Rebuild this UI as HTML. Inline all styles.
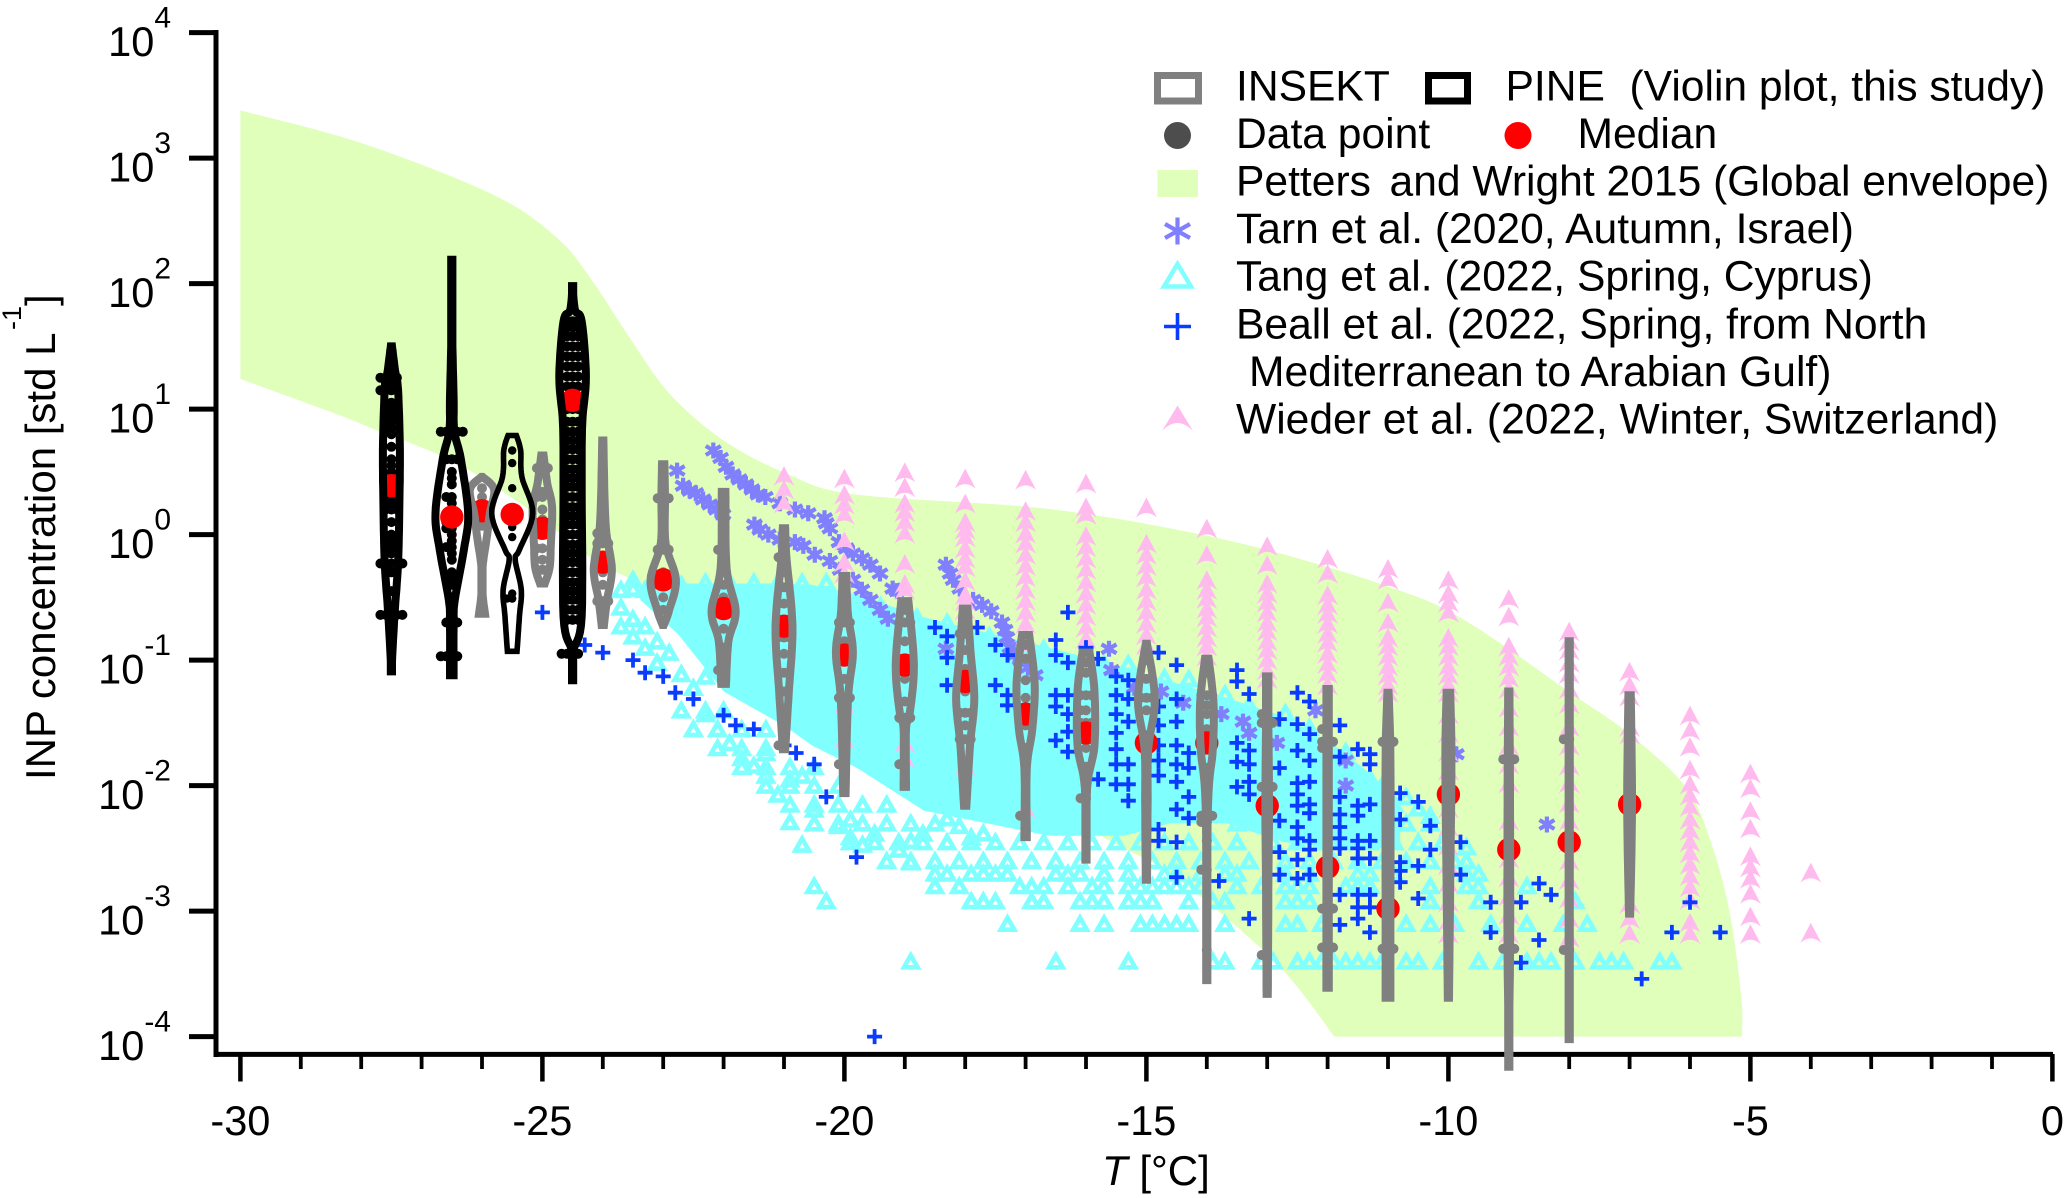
<!DOCTYPE html>
<html lang="en">
<head>
<meta charset="utf-8">
<title>INP concentration versus temperature</title>
<style>
html,body{margin:0;padding:0;background:#fff;}
svg{display:block;}
text{font-family:"Liberation Sans",Arial,sans-serif;fill:#000;}
</style>
</head>
<body>
<svg id="chart" xmlns="http://www.w3.org/2000/svg" width="2067" height="1198" viewBox="0 0 2067 1198">
  <rect x="0" y="0" width="2067" height="1198" fill="#fff"/>
  <g id="axes"></g>
  <g id="envelope"></g>
  <g id="tang"></g>
  <g id="tarn"></g>
  <g id="wieder"></g>
  <g id="beall"></g>
  <g id="violins"></g>

  <text transform="translate(55,780) rotate(-90)" font-size="42">INP concentration [std L</text>
  <text transform="translate(21,330) rotate(-90)" font-size="27">-1</text>
  <text transform="translate(55,306) rotate(-90)" font-size="42">]</text>
  <text x="1102" y="1185" font-size="42"><tspan font-style="italic">T</tspan> [°C]</text>

  <g>
    <rect x="1157.5" y="75.5" width="41" height="25.5" fill="none" stroke="#808080" stroke-width="7"/>
    <text x="1236" y="100.3" font-size="42.6">INSEKT</text>
    <rect x="1428.5" y="75.5" width="39" height="25.5" fill="none" stroke="#000" stroke-width="7"/>
    <text x="1505.5" y="100.3" font-size="42.6">PINE</text>
    <text x="1629.5" y="100.3" font-size="42.6">(Violin plot, this study)</text>

    <circle cx="1177.5" cy="135.5" r="13.5" fill="#4d4d4d"/>
    <text x="1236" y="147.9" font-size="42.6">Data point</text>
    <circle cx="1518" cy="135.5" r="13.5" fill="#ff0000"/>
    <text x="1577.5" y="147.9" font-size="42.6">Median</text>

    <rect x="1157.5" y="170" width="40.5" height="27" fill="#dfffbb"/>
    <text x="1236" y="195.5" font-size="42.6">Petters</text>
    <text x="1389.5" y="195.5" font-size="42.6">and Wright 2015 (Global envelope)</text>

    <g stroke="#8080ff" stroke-width="4.2" fill="none">
      <path d="M1177.5 217.5V244.5M1165 224L1190 238M1165 238L1190 224"/>
    </g>
    <text x="1236" y="243.1" font-size="42.6">Tarn et al. (2020, Autumn, Israel)</text>

    <path d="M1177.5 264L1191 286.5H1164Z" fill="none" stroke="#80ffff" stroke-width="4.5"/>
    <text x="1236" y="290.7" font-size="42.6">Tang et al. (2022, Spring, Cyprus)</text>

    <path d="M1177.5 313V340M1164 326.5H1191" fill="none" stroke="#0a3cff" stroke-width="3.6"/>
    <text x="1236" y="338.3" font-size="42.6">Beall et al. (2022, Spring, from North</text>
    <text x="1249" y="385.9" font-size="42.6">Mediterranean to Arabian Gulf)</text>

    <path d="M1177.5 405.5L1193 431Q1177.5 415 1162 431Z" fill="#ffbbee"/>
    <text x="1236" y="433.5" font-size="42.6">Wieder et al. (2022, Winter, Switzerland)</text>
  </g>
</svg>

<script>
// ---- Axis tick values ----
const xMajorTicks = [-30, -25, -20, -15, -10, -5, 0];
const xMinorTicks = [-29, -28, -27, -26, -24, -23, -22, -21, -19, -18, -17, -16, -14, -13, -12, -11, -9, -8, -7, -6, -4, -3, -2, -1];
const yTickExponents = [4, 3, 2, 1, 0, -1, -2, -3, -4];

// ---- Petters and Wright envelope (temperature, log10 concentration) ----
const envelopeUpperT = [-30, -28, -25.82, -24.77, -24.2, -23.53, -22.89, -22, -20.93, -19.84, -16.93, -14.94, -13.02, -11.02, -9.77, -7.92, -7.03, -6.07, -5.64, -5.34, -5.15, -5.14];
const envelopeUpperLog = [3.38, 3.12, 2.71, 2.37, 2.04, 1.55, 1.12, 0.75, 0.48, 0.32, 0.22, 0.08, -0.12, -0.41, -0.67, -1.28, -1.58, -2.01, -2.47, -3.02, -3.69, -4];
const envelopeLowerT = [-11.89, -12.72, -13.83, -14.77, -15.5, -16.83, -18.25, -20.73, -23.6, -24.38, -25.04, -26.31, -27.24, -27.74, -28.35, -30];
const envelopeLowerLog = [-4, -3.48, -2.99, -2.65, -2.47, -2.1, -1.68, -0.92, -0.34, -0.12, 0.14, 0.54, 0.74, 0.83, 0.95, 1.24];

// ---- Tang et al. dense core band ----
const tangBandT = [-23.38, -22.76, -22, -20.97, -20.54, -19.79, -18.68, -16.61, -15.36, -14.61, -13.68, -12.72, -11.76, -10.8];
const tangBandTop = [-0.4, -0.39, -0.39, -0.39, -0.4, -0.48, -0.66, -0.9, -1.06, -1.17, -1.3, -1.45, -1.72, -2.11];
const tangBandBottom = [-0.52, -0.79, -1.25, -1.53, -1.68, -1.86, -2.2, -2.4, -2.4, -2.3, -2.3, -2.45, -2.5, -2.5];

// ---- Tang et al. upper edge markers ----
const tangTopT = [-23.7, -23.5, -23.3, -23.1, -22.7, -22.3, -21.9, -21.5, -21.1, -20.7, -20.3, -20, -19.4, -18.8, -18.3, -17.6, -16.7, -15.7, -15.3, -14.7, -14.3, -13.7, -13.3, -12.7, -12.3, -11.7, -11.3, -11.1, -10.7, -10.5, -10.3, -9.7];
const tangTopLog = [-0.44, -0.36, -0.44, -0.36, -0.4, -0.38, -0.38, -0.38, -0.38, -0.38, -0.38, -0.45, -0.57, -0.66, -0.7, -0.81, -0.91, -1.03, -1.03, -1.14, -1.15, -1.27, -1.36, -1.42, -1.54, -1.73, -1.94, -2, -2.09, -2.18, -2.24, -2.49];

// ---- Tang et al. lower left fringe markers ----
const tangFringeT = [-23.7, -23.5, -23.7, -23.5, -23.3, -23.7, -23.5, -23.1, -23.3, -22.9, -23.1, -22.7, -22.5, -22.3, -22.3, -22.1, -21.9, -21.7, -21.5, -21.3, -21.3, -21.1, -20.9, -20.7, -20.5, -20.9, -20.7, -20.1, -19.9, -19.7, -19.9, -19.5, -19.1, -18.9, -18.7, -18.9, -18.3, -18.1, -17.9, -17.7];
const tangFringeLog = [-0.44, -0.43, -0.58, -0.67, -0.73, -0.73, -0.81, -0.85, -0.9, -0.94, -1.02, -1.11, -1.22, -1.13, -1.43, -1.55, -1.66, -1.78, -1.84, -1.74, -1.92, -2.07, -1.95, -1.92, -2.19, -2.29, -2.47, -2.32, -2.27, -2.47, -2.41, -2.38, -2.51, -2.44, -2.38, -2.61, -2.26, -2.32, -2.41, -2.38];

// ---- Tang et al. quantised rows ----
const tangRowLogs = [-3.4, -3.1, -2.92, -2.8, -2.7, -2.6, -2.45, -2.3, -2.15, -2, -1.85, -1.7, -1.55, -1.4];
const tangRowTemps = [
  [-18.9, -16.5, -15.3, -13.9, -13.7, -13.1, -12.9, -12.5, -12.3, -12.1, -11.9, -11.7, -11.5, -11.3, -11.1, -10.7, -10.5, -10.1, -9.5, -9.1, -8.7, -8.5, -8.3, -7.9, -7.5, -7.3, -7.1, -6.5, -6.3],
  [-17.3, -16.1, -15.7, -15.1, -14.9, -14.7, -14.5, -14.3, -13.7, -12.7, -12.5, -12.1, -10.7, -10.3, -9.9, -9.3, -8.7, -8.1, -7.7],
  [-20.3, -17.9, -17.7, -17.5, -16.9, -16.7, -16.1, -15.9, -15.7, -15.3, -15.1, -14.9, -14.3, -13.9, -13.7, -12.7, -12.5, -12.3, -10.3, -9.5, -7.9],
  [-20.5, -18.5, -18.1, -17.1, -16.9, -16.7, -16.3, -15.9, -15.7, -15.3, -15.1, -14.9, -14.7, -14.5, -14.3, -14.1, -13.5, -13.1, -12.7, -12.5, -12.3, -11.7, -11.5, -11.3, -10.3, -9.7, -9.5, -8.7],
  [-18.5, -18.3, -17.9, -17.7, -17.5, -17.3, -16.5, -16.3, -16.1, -15.7, -15.3, -14.7, -14.5, -14.1, -13.7, -13.5, -12.7, -12.3, -11.5, -11.3, -10.9, -9.7, -9.5],
  [-19.3, -18.9, -18.5, -18.1, -17.7, -17.3, -16.9, -16.5, -16.1, -15.7, -15.3, -14.9, -14.5, -14.1, -13.7, -13.3, -12.7, -12.3, -11.9, -11.5, -11.1, -10.7, -10.3, -9.9, -9.7],
  [-19.9, -19.5, -19.1, -18.7, -18.3, -17.9, -17.5, -17.1, -16.7, -16.3, -15.9, -15.5, -15.1, -14.7, -14.3, -13.9, -13.5, -12.9, -12.5, -12.1, -11.7, -11.3, -10.9, -10.5, -10.1],
  [-20.5, -20.1, -19.7, -19.3, -18.9, -18.5, -13.5, -13.1, -12.7, -12.3, -11.9, -11.5, -11.1, -10.7, -10.3],
  [-20.9, -20.5, -20.1, -19.7, -19.3, -12.5, -12.1, -11.7, -11.3, -10.9],
  [-21.3, -20.9, -20.5, -20.1],
  [-21.7, -21.3, -20.9, -20.5],
  [-22.1, -21.7, -21.3],
  [-22.5, -22.1, -21.7, -21.3],
  [-22.7, -22.3, -22]
];

// ---- Tarn et al. ----
const tarnT = [-22.77, -22.67, -22.56, -22.46, -22.34, -22.23, -22.12, -22.01, -22.17, -22.05, -21.96, -21.85, -21.74, -21.63, -21.53, -21.43, -21.31, -21.07, -20.82, -20.6, -20.33, -20.3, -20.24, -20.09, -19.97, -19.86, -19.71, -19.57, -19.41, -19.2, -19.13, -21.49, -21.4, -21.26, -21.07, -20.82, -20.68, -20.49, -20.24, -20.07, -19.86, -19.71, -19.57, -19.41, -19.28, -18.32, -18.25, -18.2, -18.09, -17.87, -17.72, -17.57, -17.39, -17.34, -17.31, -17.26, -17.18, -17.09, -18.32, -16.96, -16.84, -15.62, -15.58, -15.2, -14.76, -14.39, -13.76, -13.4, -13.3, -12.84, -12.2, -11.7, -11.7, -9.87, -8.37];
const tarnLog = [0.51, 0.39, 0.35, 0.33, 0.28, 0.24, 0.2, 0.16, 0.67, 0.61, 0.54, 0.48, 0.44, 0.4, 0.36, 0.32, 0.3, 0.25, 0.2, 0.17, 0.13, 0.09, 0.05, -0.06, -0.11, -0.15, -0.19, -0.24, -0.31, -0.43, -0.45, 0.08, 0.04, 0, -0.04, -0.06, -0.09, -0.16, -0.21, -0.28, -0.36, -0.44, -0.52, -0.6, -0.67, -0.24, -0.31, -0.36, -0.43, -0.52, -0.56, -0.61, -0.7, -0.76, -0.82, -0.9, -0.96, -1, -0.91, -1.06, -1.12, -0.91, -1.08, -1.22, -1.25, -1.34, -1.43, -1.49, -1.58, -1.66, -1.4, -1.8, -2, -1.75, -2.31];

// ---- Beall et al. ----
const beallT = [-25, -24.3, -24, -23.5, -23.3, -23, -22.8, -22.5, -22, -21.8, -21.5, -21, -20.8, -20.5, -20.3, -19.8, -19.5, -18.5, -18.3, -18.3, -18.3, -17.8, -17.5, -17.3, -17.5, -17.3, -17.3, -16.3, -16.5, -16.5, -16.3, -16.5, -16.5, -16.3, -16.3, -16.3, -16.5, -16.3, -16, -15.8, -15.8, -15.5, -15.3, -15.5, -15.5, -15.3, -15.3, -15.5, -15.5, -15.5, -15.3, -15.5, -15.3, -15.3, -14.8, -14.5, -14.5, -14.8, -14.5, -14.8, -14.8, -14.5, -14.8, -14.5, -14.8, -14.5, -14.3, -14.3, -14.3, -14.5, -14.3, -14.8, -14.8, -14.5, -14.5, -13.5, -13.5, -13.3, -12.5, -12.3, -12.8, -12.5, -12.3, -11.8, -13.5, -13.3, -13.5, -13.3, -12.8, -12.5, -12.3, -13.5, -13.3, -13.3, -12.5, -12.3, -12.5, -12.3, -12.5, -12.3, -12.5, -12.8, -12.5, -12.3, -12.8, -12.5, -12.3, -12.8, -12.5, -12.3, -11.8, -11.8, -11.8, -11.8, -11.8, -11.5, -11.3, -11.5, -11.5, -11.3, -11.5, -11.3, -11.5, -11.8, -11.5, -11.3, -11.3, -10.8, -10.5, -10.8, -10.3, -10.3, -10.8, -10.5, -10.8, -10.8, -10.5, -11.8, -11.5, -11.3, -11.3, -11.5, -11.5, -11.8, -11.3, -13.3, -13.8, -9.8, -9.8, -9.3, -8.8, -9.3, -8.5, -8.3, -8.5, -8.8, -6.8, -6, -6.3, -5.5];
const beallLog = [-0.62, -0.88, -0.94, -1, -1.1, -1.13, -1.26, -1.31, -1.44, -1.52, -1.55, -1.68, -1.74, -1.83, -2.09, -2.57, -4, -0.74, -0.81, -0.98, -1.2, -0.74, -0.88, -0.96, -1.2, -1.28, -1.36, -0.62, -0.84, -0.96, -1.02, -1.28, -1.37, -1.28, -1.43, -1.57, -1.64, -1.73, -0.9, -0.99, -1.95, -1.13, -1.16, -1.28, -1.43, -1.31, -1.49, -1.58, -1.71, -1.83, -1.83, -1.99, -1.99, -2.12, -0.94, -1.04, -1.31, -1.37, -1.49, -1.52, -1.68, -1.68, -1.8, -1.83, -1.92, -1.97, -1.74, -1.86, -2.09, -2.19, -2.26, -2.35, -2.44, -2.45, -2.73, -1.08, -1.17, -1.27, -1.26, -1.33, -1.47, -1.51, -1.59, -1.52, -1.66, -1.72, -1.81, -1.83, -1.86, -1.72, -1.8, -2.01, -1.97, -2.07, -1.98, -1.97, -2.07, -2.15, -2.16, -2.22, -2.33, -2.28, -2.42, -2.44, -2.53, -2.59, -2.51, -2.71, -2.74, -2.71, -2.09, -2.23, -2.33, -2.42, -2.5, -2.16, -2.15, -2.24, -2.44, -2.44, -2.5, -2.58, -2.58, -1.77, -1.71, -1.75, -1.83, -2.06, -2.13, -2.27, -2.32, -2.51, -2.61, -2.64, -2.68, -2.77, -2.9, -2.87, -2.87, -2.87, -2.97, -2.97, -3.06, -3.11, -3.17, -3.06, -2.76, -2.45, -2.71, -2.93, -2.93, -3.17, -2.78, -2.87, -3.23, -3.41, -3.54, -2.93, -3.17, -3.17];

// ---- Wieder et al. ----
const wiederTemps = [-21, -20, -19, -18, -17, -16, -15, -14, -13, -12, -11, -10, -9, -8, -7, -6, -5, -4];
const wiederLogs = [
  [0.45, 0.34, 0.23],
  [0.43, 0.3, 0.22, 0.14, -0.07, -0.24, -0.33, -1.37, -1.65],
  [0.48, 0.36, 0.23, 0.16, 0.08, -0.01, -0.25, -0.41, -0.46, -1.68, -1.8],
  [0.43, 0.23, 0.08, 0.02, -0.04, -0.13, -0.21, -0.28, -0.39, -0.5, -0.55, -0.62, -1.86],
  [0.42, 0.17, 0.08, -0.01, -0.09, -0.18, -0.27, -0.36, -0.46, -0.55, -0.64, -0.73, -0.82, -0.9, -2.2],
  [0.39, 0.2, 0.14, -0.03, -0.12, -0.21, -0.3, -0.4, -0.49, -0.58, -0.67, -0.76, -0.85],
  [0.2, -0.09, -0.18, -0.27, -0.36, -0.46, -0.55, -0.64, -0.73, -0.82, -0.9],
  [0.03, -0.18, -0.38, -0.46, -0.53, -0.61, -0.68, -0.76, -0.84, -0.91, -0.99],
  [-0.11, -0.26, -0.41, -0.49, -0.56, -0.64, -0.72, -0.79, -0.87, -0.94, -1.02, -1.1, -1.17],
  [-0.21, -0.33, -0.5, -0.58, -0.65, -0.73, -0.81, -0.88, -0.97, -1.05, -1.13, -1.22],
  [-0.29, -0.38, -0.56, -0.72, -0.84, -0.91, -0.99, -1.07, -1.14, -1.22, -1.28],
  [-0.38, -0.49, -0.56, -0.64, -0.84, -0.91, -0.99, -1.07, -1.14, -1.22, -1.28, -1.45, -1.6, -1.75, -1.9, -2.05, -2.2, -2.35, -2.5, -2.65, -2.8, -2.95, -3.1, -3.2],
  [-0.53, -0.67, -0.91, -0.99, -1.07, -1.16, -1.25, -1.4, -1.55, -1.7, -1.85, -2, -2.3, -2.45, -2.6, -2.75, -2.9, -3.05, -3.2],
  [-0.79, -0.87, -0.94, -1.04, -1.13, -1.25, -1.37, -1.55, -1.7, -1.86, -2, -2.16, -2.3, -2.47, -2.62, -2.77, -2.92, -3.08, -3.23],
  [-1.11, -1.22, -1.31, -1.55, -1.61, -2.96, -3.08, -3.2],
  [-1.46, -1.58, -1.71, -1.89, -2.01, -2.1, -2.19, -2.29, -2.38, -2.47, -2.56, -2.65, -2.74, -2.83, -2.93, -3.11, -3.2],
  [-1.92, -2.04, -2.22, -2.36, -2.58, -2.67, -2.76, -2.88, -3.06, -3.2],
  [-2.71, -3.19]
];

// ---- Violins: temperature, instrument, median ----
const violinTemps = [-26, -25, -24, -23, -22, -21, -20, -19, -18, -17, -16, -15, -14, -13, -12, -11, -10, -9, -8, -7, -27.5, -26.5, -25.5, -24.5];
const violinIsPine = [0, 0, 0, 0, 0, 0, 0, 0, 0, 0, 0, 0, 0, 0, 0, 0, 0, 0, 0, 0, 1, 1, 1, 1];
const violinMedians = [0.19, 0.05, -0.22, -0.36, -0.59, -0.73, -0.96, -1.04, -1.17, -1.43, -1.58, -1.66, -1.66, -2.16, -2.65, -2.98, -2.07, -2.51, -2.45, -2.15, 0.39, 0.14, 0.16, 1.07];

// Violin profile levels (log10 concentration)
const violinLevels = [
  [0.46, 0.36, 0.17, -0.02, -0.26, -0.47, -0.63],
  [0.63, 0.41, 0.22, -0.07, -0.26, -0.39],
  [0.75, 0.28, 0.01, -0.28, -0.52, -0.72],
  [0.56, 0.28, -0.07, -0.36, -0.6, -0.72],
  [0.34, -0.27, -0.61, -0.85, -1.19],
  [0.05, -0.18, -0.73, -1.25, -1.71],
  [-0.33, -0.64, -0.94, -1.31, -2.06],
  [-0.53, -1.04, -1.43, -1.55, -2.01],
  [-0.59, -0.94, -1.31, -1.68, -2.16],
  [-0.8, -1.19, -1.55, -1.86, -2.41],
  [-0.94, -1.25, -1.68, -2.01, -2.59],
  [-0.87, -1.31, -1.71, -2.16, -2.75],
  [-0.99, -1.34, -1.71, -2.16, -3.55],
  [-1.13, -1.55, -2.16, -2.77, -3.66],
  [-1.23, -1.86, -2.65, -3.08, -3.61],
  [-1.26, -1.8, -2.99, -3.69],
  [-1.26, -1.8, -2.77, -3.69],
  [-1.25, -2.16, -3.38, -4.24],
  [-0.85, -2, -3.2, -4.02],
  [-1.28, -2.16, -3.02],
  [1.5, 1.31, 1.15, 0.67, 0.2, -0.23, -0.65, -1.09],
  [2.19, 1.74, 1.1, 0.83, 0.6, 0.17, -0.12, -0.52, -0.71, -1.12],
  [0.79, 0.67, 0.46, 0.17, -0.12, -0.2, -0.44, -0.65, -0.93],
  [1.98, 1.79, 1.7, 1.26, 0.89, 0.41, -0.65, -0.93, -1.16]
];

// Violin half widths at those levels (degrees C)
const violinHalfWidths = [
  [0.03, 0.22, 0.15, 0.1, 0.03, 0.03, 0.07],
  [0.04, 0.1, 0.18, 0.16, 0.14, 0.06],
  [0.03, 0.05, 0.08, 0.17, 0.09, 0.04],
  [0.04, 0.05, 0.06, 0.23, 0.12, 0.03],
  [0.05, 0.07, 0.22, 0.1, 0.06],
  [0.04, 0.06, 0.16, 0.1, 0.04],
  [0.05, 0.08, 0.16, 0.08, 0.04],
  [0.08, 0.17, 0.1, 0.04, 0.04],
  [0.06, 0.11, 0.17, 0.1, 0.04],
  [0.08, 0.17, 0.13, 0.04, 0.04],
  [0.08, 0.16, 0.16, 0.04, 0.03],
  [0.03, 0.16, 0.05, 0.04, 0.03],
  [0.05, 0.13, 0.12, 0.04, 0.01],
  [0.04, 0.04, 0.05, 0.04, 0.03],
  [0.04, 0.04, 0.04, 0.04, 0.04],
  [0.03, 0.06, 0.06, 0.06],
  [0.05, 0.07, 0.05, 0.03],
  [0.03, 0.04, 0.04, 0.01],
  [0.03, 0.03, 0.03, 0.03],
  [0.04, 0.06, 0.03],
  [0.03, 0.08, 0.13, 0.16, 0.15, 0.13, 0.07, 0.02],
  [0.02, 0.02, 0.05, 0.06, 0.17, 0.29, 0.22, 0.07, 0.05, 0.05],
  [0.07, 0.14, 0.16, 0.34, 0.12, 0.05, 0.15, 0.12, 0.08],
  [0.02, 0.06, 0.17, 0.24, 0.18, 0.17, 0.17, 0.03, 0.02]
];

// Individual data points in each violin (log10 concentration)
const violinPoints = [
  [0.37, 0.3, 0.07],
  [0.53, 0.53, 0.53, 0.34, 0.3, 0.3, 0.2, 0.12, 0.02, -0.11, -0.11, -0.2, -0.28, -0.28, -0.28],
  [0.5, 0.4, 0.28, 0.15, 0.01, 0.01, -0.07, -0.07, -0.07, -0.3, -0.4, -0.53, -0.53, -0.53],
  [0.29, 0.29, 0.29, 0.15, 0, -0.12, -0.12, -0.12, -0.3, -0.5, -0.6],
  [0.08, -0.12, -0.12, -0.3, -0.4, -0.5, -0.6, -0.75, -0.9, -1.08, -1.08],
  [-0.08, -0.18, -0.18, -0.3, -0.42, -0.55, -0.55, -0.7, -0.82, -0.82, -0.82, -0.95, -1.1, -1.25, -1.4, -1.68, -1.68],
  [-0.45, -0.58, -0.7, -0.7, -0.7, -0.85, -1, -1, -1, -1.15, -1.3, -1.3, -1.3, -1.45, -1.6, -1.83, -1.83],
  [-0.6, -0.7, -0.7, -0.7, -0.85, -1, -1, -1, -1.15, -1.33, -1.33, -1.33, -1.46, -1.46, -1.46, -1.83, -1.83],
  [-0.68, -0.79, -0.79, -0.92, -1.07, -1.07, -1.25, -1.42, -1.42, -1.42, -1.52, -1.63, -1.63, -1.63],
  [-0.88, -0.99, -0.99, -0.99, -1.16, -1.3, -1.42, -1.52, -1.52, -1.52, -1.7, -2.24, -2.24],
  [-1.02, -1.1, -1.1, -1.28, -1.28, -1.28, -1.4, -1.4, -1.5, -1.5, -1.5, -1.6, -1.7, -1.85, -2.1, -2.1],
  [-1, -1.15, -1.3, -1.3, -1.3, -1.4, -1.6, -1.8, -2.26],
  [-1.1, -1.28, -1.28, -1.28, -1.36, -1.36, -1.36, -1.43, -1.55, -1.86, -2.24, -2.24, -2.24, -2.29, -2.29, -2.44, -2.67, -2.67, -3.31],
  [-1.43, -1.43, -1.5, -1.5, -1.5, -2.01, -2.01, -2.01, -3.35, -3.35],
  [-1.55, -1.55, -1.65, -1.65, -1.65, -1.7, -1.7, -2.98, -2.98, -2.98, -3.29, -3.29, -3.29],
  [-1.65, -1.65, -1.65, -1.8, -3.3, -3.3, -3.3],
  [-1.7, -2.2],
  [-1.79, -1.79, -1.79, -3.3, -3.3, -3.3],
  [-1.63, -1.63, -3.31, -3.31],
  [-1.7, -2.16],
  [1.25, 1.25, 1.25, 1.25, 1.2, 1.2, 1.15, 1.15, 1.15, 1.15, 1.05, 1, 0.95, 0.9, 0.85, 0.85, 0.8, 0.7, 0.6, 0.55, 0.5, 0.45, 0.42, 0.35, 0.3, 0.25, 0.2, 0.2, 0.2, 0.1, 0, -0.05, -0.1, -0.15, -0.23, -0.23, -0.23, -0.23, -0.23, -0.3, -0.45, -0.64, -0.64, -0.64, -0.64, -0.64],
  [0.82, 0.82, 0.82, 0.82, 0.82, 0.6, 0.6, 0.6, 0.5, 0.45, 0.4, 0.3, 0.3, 0.25, 0.2, 0.17, 0.17, 0.15, 0.1, 0.1, 0.05, 0.05, 0, -0.05, -0.1, -0.1, -0.15, -0.2, -0.3, -0.35, -0.4, -0.5, -0.55, -0.7, -0.7, -0.7, -0.97, -0.97, -0.97, -0.97],
  [0.67, 0.57, 0.37, 0.17, 0.06, -0.02, -0.47, -0.51, -0.51],
  [1.7, 1.7, 1.7, 1.65, 1.65, 1.65, 1.58, 1.58, 1.58, 1.5, 1.5, 1.5, 1.42, 1.42, 1.42, 1.34, 1.34, 1.34, 1.26, 1.26, 1.26, 1.18, 1.18, 1.18, 1.1, 1.1, 1.1, 1, 1, 1, 0.9, 0.9, 0.9, 0.82, 0.82, 0.82, 0.75, 0.75, 0.75, 0.68, 0.68, 0.68, 0.6, 0.6, 0.6, 0.52, 0.52, 0.52, 0.45, 0.45, 0.45, 0.38, 0.38, 0.38, 0.3, 0.3, 0.3, 0.22, 0.22, 0.22, 0.15, 0.15, 0.15, 0.08, 0.08, 0.08, 0, 0, 0, -0.08, -0.08, -0.08, -0.15, -0.15, -0.15, -0.22, -0.22, -0.22, -0.3, -0.3, -0.3, -0.38, -0.38, -0.38, -0.45, -0.45, -0.45, -0.52, -0.52, -0.52, -0.6, -0.6, -0.6, -0.68, -0.68, -0.68, -0.95, -0.95, -0.95, -0.95]
];

// ---- Axis functions ----
function xScale(t) { return 240.4 + (t + 30) * 60.4; }
function yScale(logC) { return 534.6 - logC * 125.5; }
function widthScale(dt) { return dt * 60.4; }

const SVGNS = 'http://www.w3.org/2000/svg';
function make(tag, parent, attrs, text) {
  const el = document.createElementNS(SVGNS, tag);
  for (const k in attrs) el.setAttribute(k, attrs[k]);
  if (text !== undefined) el.textContent = text;
  parent.appendChild(el);
  return el;
}
function catmull(p0, p1, p2, p3, s) {
  return 0.5 * ((2 * p1) + (p2 - p0) * s + (2 * p0 - 5 * p1 + 4 * p2 - p3) * s * s + (3 * p1 - p0 - 3 * p2 + p3) * s * s * s);
}

// ---- Axes ----
const axesG = document.getElementById('axes');
let axisEl = make('line', axesG, {x1: 216, y1: 30, x2: 216, y2: 1057, stroke: '#000', 'stroke-width': 5});


axisEl = make('line', axesG, {x1: 213.5, y1: 1054.4, x2: 2053, y2: 1054.4, stroke: '#000', 'stroke-width': 5});



xMajorTicks.forEach(function (t) {
  const tick = make('line', axesG, {x1: xScale(t), y1: 1054, x2: xScale(t), y2: 1081.5, stroke: '#000', 'stroke-width': 4.5});
  
  
  const label = make('text', axesG, {x: xScale(t), y: 1135, 'font-size': 41.5, 'text-anchor': 'middle'}, String(t));
  
  
});
xMinorTicks.forEach(function (t) {
  const tick = make('line', axesG, {x1: xScale(t), y1: 1054, x2: xScale(t), y2: 1069, stroke: '#000', 'stroke-width': 3.8});
  
  
});
yTickExponents.forEach(function (e) {
  const yy = yScale(e);
  const tick = make('line', axesG, {x1: 189, y1: yy, x2: 216, y2: yy, stroke: '#000', 'stroke-width': 5});
  
  
  const label = make('text', axesG, {x: 171, y: yy + 23.5, 'font-size': 41.5, 'text-anchor': 'end'}, '10');
  
  
  make('tspan', label, {dy: -28.5, 'font-size': 30}, String(e));
});

// ---- Envelope ----
function smoothEdge(ts, logs) {
  const parts = [];
  for (let i = 0; i < ts.length - 1; i++) {
    const a = Math.max(0, i - 1), d = Math.min(ts.length - 1, i + 2);
    for (let k = 0; k < 6; k++) {
      const s = k / 6;
      const px = catmull(xScale(ts[a]), xScale(ts[i]), xScale(ts[i + 1]), xScale(ts[d]), s);
      const py = catmull(yScale(logs[a]), yScale(logs[i]), yScale(logs[i + 1]), yScale(logs[d]), s);
      parts.push(px.toFixed(1) + ' ' + py.toFixed(1));
    }
  }
  parts.push(xScale(ts[ts.length - 1]).toFixed(1) + ' ' + yScale(logs[logs.length - 1]).toFixed(1));
  return parts;
}
const envelopeParts = smoothEdge(envelopeUpperT, envelopeUpperLog).concat(smoothEdge(envelopeLowerT, envelopeLowerLog));
const envEl = make('path', document.getElementById('envelope'), {d: 'M' + envelopeParts.join('L') + 'Z', fill: '#dfffbb'});



// ---- Tang ----
const tangG = document.getElementById('tang');
function tangBandPath() {
  const parts = [];
  tangBandT.forEach(function (t, i) { parts.push(xScale(t).toFixed(1) + ' ' + yScale(tangBandTop[i]).toFixed(1)); });
  for (let i = tangBandT.length - 1; i >= 0; i--) { parts.push(xScale(tangBandT[i]).toFixed(1) + ' ' + yScale(tangBandBottom[i]).toFixed(1)); }
  return 'M' + parts.join('L') + 'Z';
}
const bandEl = make('path', tangG, {d: tangBandPath(), fill: '#80ffff'});



function tangMark(t, lg) {
  const cx = xScale(t), cy = yScale(lg);
  const d = 'M' + cx.toFixed(1) + ' ' + (cy - 6).toFixed(1) + 'L' + (cx + 6.8).toFixed(1) + ' ' + (cy + 6).toFixed(1) + 'H' + (cx - 6.8).toFixed(1) + 'Z';
  const el = make('path', tangG, {d: d, fill: 'none', stroke: '#80ffff', 'stroke-width': 4.6});
  
  
}
tangRowLogs.forEach(function (lg, r) { tangRowTemps[r].forEach(function (t) { tangMark(t, lg); }); });
tangFringeT.forEach(function (t, i) { tangMark(t, tangFringeLog[i]); });
tangTopT.forEach(function (t, i) { tangMark(t, tangTopLog[i]); });

// ---- Tarn ----
const tarnG = document.getElementById('tarn');
tarnT.forEach(function (t, i) {
  const cx = xScale(t), cy = yScale(tarnLog[i]);
  const d = 'M' + cx.toFixed(1) + ' ' + (cy - 8).toFixed(1) + 'V' + (cy + 8).toFixed(1) +
    'M' + (cx - 7.5).toFixed(1) + ' ' + (cy - 4.5).toFixed(1) + 'L' + (cx + 7.5).toFixed(1) + ' ' + (cy + 4.5).toFixed(1) +
    'M' + (cx - 7.5).toFixed(1) + ' ' + (cy + 4.5).toFixed(1) + 'L' + (cx + 7.5).toFixed(1) + ' ' + (cy - 4.5).toFixed(1);
  const el = make('path', tarnG, {d: d, fill: 'none', stroke: '#8080ff', 'stroke-width': 4.2});
  
  
});

// ---- Wieder ----
const wiederG = document.getElementById('wieder');
wiederTemps.forEach(function (t, c) {
  wiederLogs[c].forEach(function (lg) {
    const cx = xScale(t), cy = yScale(lg);
    const d = 'M' + cx.toFixed(1) + ' ' + (cy - 12).toFixed(1) + 'L' + (cx + 10.5).toFixed(1) + ' ' + (cy + 8).toFixed(1) +
      'Q' + cx.toFixed(1) + ' ' + (cy - 1).toFixed(1) + ' ' + (cx - 10.5).toFixed(1) + ' ' + (cy + 8).toFixed(1) + 'Z';
    const el = make('path', wiederG, {d: d, fill: '#ffbbee'});
    
    
  });
});

// ---- Beall ----
const beallG = document.getElementById('beall');
beallT.forEach(function (t, i) {
  const cx = xScale(t), cy = yScale(beallLog[i]);
  const d = 'M' + cx.toFixed(1) + ' ' + (cy - 7.5).toFixed(1) + 'V' + (cy + 7.5).toFixed(1) +
    'M' + (cx - 7.5).toFixed(1) + ' ' + cy.toFixed(1) + 'H' + (cx + 7.5).toFixed(1);
  const el = make('path', beallG, {d: d, fill: 'none', stroke: '#0a3cff', 'stroke-width': 3.8});
  
  
});

// ---- Violins ----
function violinSide(levels, widths, inset) {
  const out = [];
  for (let i = 0; i < levels.length - 1; i++) {
    const i0 = Math.max(0, i - 1), i3 = Math.min(levels.length - 1, i + 2);
    for (let k = 0; k < 8; k++) {
      const s = k / 8;
      const yy = catmull(yScale(levels[i0]), yScale(levels[i]), yScale(levels[i + 1]), yScale(levels[i3]), s);
      const w = catmull(widthScale(widths[i0]), widthScale(widths[i]), widthScale(widths[i + 1]), widthScale(widths[i3]), s);
      out.push([yy, Math.max(0.6, w - inset)]);
    }
  }
  out.push([yScale(levels[levels.length - 1]), Math.max(0.6, widthScale(widths[widths.length - 1]) - inset)]);
  return out;
}
function swarmOffsets(points) {
  const sorted = points.slice().sort(function (a, b) { return b - a; });
  const placed = [];
  const order = [0, -1, 1, -2, 2, -3, 3];
  sorted.forEach(function (lg) {
    const yy = yScale(lg);
    for (let k = 0; k < order.length; k++) {
      const dx = order[k] * 5.5;
      const clash = placed.some(function (q) { return Math.hypot(q[0] - dx, q[1] - yy) < 5; });
      if (!clash || k === order.length - 1) { placed.push([dx, yy]); break; }
    }
  });
  return placed;
}
const violinsG = document.getElementById('violins');
violinTemps.forEach(function (t, v) {
  const color = violinIsPine[v] ? '#000000' : '#808080';
  const strokeW = t === -25.5 ? 5.6 : 8;
  const dotR = t === -25.5 ? 4.2 : 5;
  const g = make('g', violinsG, {});
  
  
  const cx = xScale(t);

  swarmOffsets(violinPoints[v]).forEach(function (q) {
    const dot = make('circle', g, {cx: (cx + q[0]).toFixed(1), cy: q[1].toFixed(1), r: dotR, fill: color});
    
    
  });

  const med = make('circle', g, {cx: cx, cy: yScale(violinMedians[v]).toFixed(1), r: 11.7, fill: '#ff0000'});
  
  

  const side = violinSide(violinLevels[v], violinHalfWidths[v], (strokeW - 5.6) / 2);
  const left = side.map(function (s) { return (cx - s[1]).toFixed(1) + ' ' + s[0].toFixed(1); });
  const right = side.slice().reverse().map(function (s) { return (cx + s[1]).toFixed(1) + ' ' + s[0].toFixed(1); });
  const outline = make('path', g, {d: 'M' + left.concat(right).join('L') + 'Z', fill: 'none', stroke: color, 'stroke-width': strokeW, 'stroke-linejoin': 'miter', 'stroke-miterlimit': 3});
  
  
});
</script>
</body>
</html>
